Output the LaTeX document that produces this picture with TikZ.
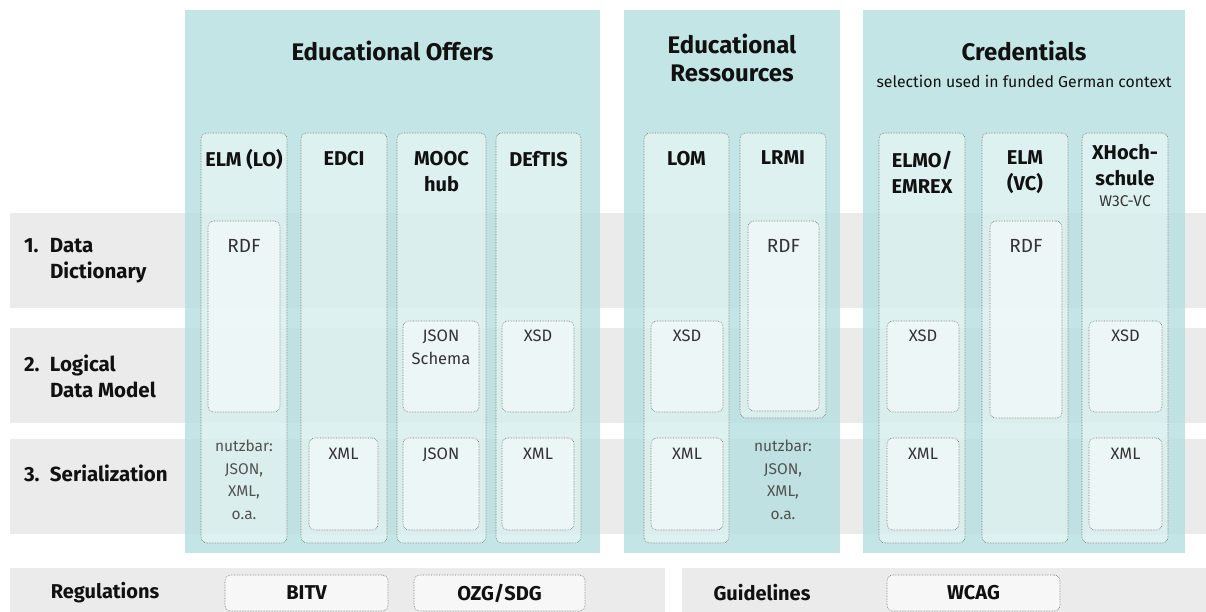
\documentclass[tikz,border=0pt]{standalone}
\usepackage{fontspec}
\setmainfont{Fira Sans}
\usetikzlibrary{positioning}
\definecolor{bandgray}{HTML}{EBEBEB}
\definecolor{panelteal}{RGB}{181,223,223}
\definecolor{dotgray}{HTML}{707070}
\definecolor{inkdark}{HTML}{111111}
\definecolor{inkgray}{HTML}{333333}

\begin{document}
\begin{tikzpicture}[x=1pt,y=-1pt]
    \tikzstyle{every node}=[inner sep=0,outer sep=0]
    \tikzstyle{rowband}=[fill=bandgray,anchor=north west,minimum width=1196,minimum height=95]
    \tikzstyle{footbar}=[fill=bandgray,anchor=north west,minimum height=44]
    \tikzstyle{grouppanel}=[fill=panelteal,fill opacity=0.8,anchor=north west,minimum height=543]
    \tikzstyle{stdcol}=[draw=dotgray,densely dotted,line width=0.6pt,rounded corners=6,fill=white,fill opacity=0.45,anchor=north west,minimum width=86,minimum height=410]
    \tikzstyle{fmtbox}=[stdcol,fill opacity=0.5,minimum width=72,minimum height=91]
    \tikzstyle{normbox}=[stdcol,fill opacity=0.6,text opacity=1,minimum height=36,text=inkdark,font=\bfseries\fontsize{20}{24}\selectfont]
    \tikzstyle{grouptitle}=[text=inkdark,font=\bfseries\fontsize{24}{28}\selectfont,align=center]
    \tikzstyle{colhead}=[text=inkdark,font=\bfseries\fontsize{20}{26}\selectfont,align=center]
    \tikzstyle{fmtlabel}=[text=inkgray,font=\fontsize{16.5}{22.5}\selectfont,align=center]
    \tikzstyle{rowlabel}=[text=inkdark,font=\bfseries\fontsize{20.5}{26.5}\selectfont,align=left,anchor=west]
    \tikzstyle{barlabel}=[text=inkdark,font=\bfseries\fontsize{20}{24}\selectfont]
    {
        \useasboundingbox (0,0) rectangle (1206,612);

        \node[rowband] (dictband) at (10,213) {};
        \node[rowband] (modelband) at (10,328) {};
        \node[rowband] (serband) at (10,439) {};
        \node[footbar,minimum width=655] (regbar) at (10,568) {};
        \node[footbar,minimum width=524] (guidebar) at (682,568) {};

        \node[rowlabel] (dictl) at ([xshift=14pt]dictband.west) {\makebox[26pt][l]{1.}Data\\\hspace*{26pt}Dictionary};
        \node[rowlabel] (modell) at ([xshift=14pt,yshift=-1pt]modelband.west) {\makebox[26pt][l]{2.}Logical\\\hspace*{26pt}Data Model};
        \node[rowlabel] (serl) at ([xshift=14pt,yshift=13pt]serband.west) {\makebox[26pt][l]{3.}Serialization};

        \node[grouppanel,minimum width=415] (offers) at (185,10) {};
        \node[grouppanel,minimum width=216] (ressources) at (624,10) {};
        \node[grouppanel,minimum width=322] (creds) at (863,10) {};

        \node[grouptitle,below=31pt of offers.north] (offerst) {Educational Offers};
        \node[grouptitle,below=24pt of ressources.north] (ressourcest) {Educational\\Ressources};
        \node[grouptitle,below=31pt of creds.north] (credst) {Credentials};
        \node[fmtlabel,text=inkdark,font=\fontsize{15.8}{18}\selectfont,below=14pt of credst] (credss) {selection used in funded German context};

        \node[stdcol] (elmlo) at (201,133) {};
        \node[stdcol] (edci) at (301,133) {};
        \node[stdcol,minimum width=89] (mooc) at (397,133) {};
        \node[stdcol,minimum width=85] (deftis) at (496,133) {};
        \node[stdcol,minimum width=85] (lom) at (644,133) {};
        \node[stdcol,minimum height=285] (lrmi) at (740,133) {};
        \node[stdcol] (elmo) at (879,133) {};
        \node[stdcol] (elmvc) at (982,133) {};
        \node[stdcol] (xhoch) at (1082,133) {};

        \node[colhead,below=16pt of elmlo.north] (elmloh) {ELM (LO)};
        \node[colhead,below=18pt of edci.north] (edcih) {EDCI};
        \node[colhead,below=18pt of mooc.north] (mooch) {MOOC\\hub};
        \node[colhead,below=18pt of deftis.north] (deftish) {DEfTIS};
        \node[colhead,below=18pt of lom.north] (lomh) {LOM};
        \node[colhead,below=18pt of lrmi.north] (lrmih) {LRMI};
        \node[colhead,below=18pt of elmo.north] (elmoh) {ELMO/\\EMREX};
        \node[colhead,below=18pt of elmvc.north] (elmvch) {ELM\\(VC)};
        \node[colhead,below=11pt of xhoch.north] (xhochh) {XHoch-\\schule\\[-5pt]{\mdseries\color{inkgray}\fontsize{15.5}{18}\selectfont W3C-VC}};

        \node[fmtbox,minimum height=191] (elmrdf) at (208,221) {};
        \node[fmtbox,minimum width=69,minimum height=92] (edcixml) at (309,438) {};
        \node[fmtbox,minimum width=76] (moocschema) at (403,321) {};
        \node[fmtbox,minimum width=76,minimum height=92] (moocjson) at (403,438) {};
        \node[fmtbox] (deftisxsd) at (502,321) {};
        \node[fmtbox,minimum height=92] (deftisxml) at (502,438) {};
        \node[fmtbox] (lomxsd) at (651,321) {};
        \node[fmtbox,minimum height=92] (lomxml) at (651,438) {};
        \node[fmtbox,minimum width=71,minimum height=190] (lrmirdf) at (748,221) {};
        \node[fmtbox] (elmoxsd) at (887,321) {};
        \node[fmtbox,minimum height=92] (elmoxml) at (887,438) {};
        \node[fmtbox,minimum height=197] (elmvcrdf) at (990,221) {};
        \node[fmtbox,minimum width=73] (xhochxsd) at (1089,321) {};
        \node[fmtbox,minimum width=73,minimum height=92] (xhochxml) at (1089,438) {};

        \node[fmtlabel,font=\fontsize{19}{22}\selectfont,below=18pt of elmrdf.north] (elmrdfl) {RDF};
        \node[fmtlabel,below=10pt of edcixml.north] (edcixmll) {XML};
        \node[fmtlabel,below=9pt of moocschema.north] (moocschemal) {JSON\\Schema};
        \node[fmtlabel,below=10pt of moocjson.north] (moocjsonl) {JSON};
        \node[fmtlabel,below=9pt of deftisxsd.north] (deftisxsdl) {XSD};
        \node[fmtlabel,below=10pt of deftisxml.north] (deftisxmll) {XML};
        \node[fmtlabel,below=9pt of lomxsd.north] (lomxsdl) {XSD};
        \node[fmtlabel,below=10pt of lomxml.north] (lomxmll) {XML};
        \node[fmtlabel,font=\fontsize{19}{22}\selectfont,below=18pt of lrmirdf.north] (lrmirdfl) {RDF};
        \node[fmtlabel,below=9pt of elmoxsd.north] (elmoxsdl) {XSD};
        \node[fmtlabel,below=10pt of elmoxml.north] (elmoxmll) {XML};
        \node[fmtlabel,font=\fontsize{19}{22}\selectfont,below=18pt of elmvcrdf.north] (elmvcrdfl) {RDF};
        \node[fmtlabel,below=9pt of xhochxsd.north] (xhochxsdl) {XSD};
        \node[fmtlabel,below=10pt of xhochxml.north] (xhochxmll) {XML};

        \node[fmtlabel,font=\fontsize{15.5}{22.5}\selectfont,text=inkgray!85,below=28pt of elmrdf.south] (elmuse) {nutzbar:\\JSON,\\XML,\\o.a.};
        \node[fmtlabel,font=\fontsize{15.5}{22.5}\selectfont,text=inkgray!85,below=22pt of lrmi.south] (lrmiuse) {nutzbar:\\JSON,\\XML,\\o.a.};

        \node[barlabel] (regl) at (105,593) {Regulations};
        \node[barlabel] (guidel) at (762,593) {Guidelines};
        \node[normbox,minimum width=163] (bitv) at (225,575) {BITV};
        \node[normbox,minimum width=171] (ozgsdg) at (414,575) {OZG/SDG};
        \node[normbox,minimum width=173] (wcag) at (887,575) {WCAG};
    }
\end{tikzpicture}
\end{document}
